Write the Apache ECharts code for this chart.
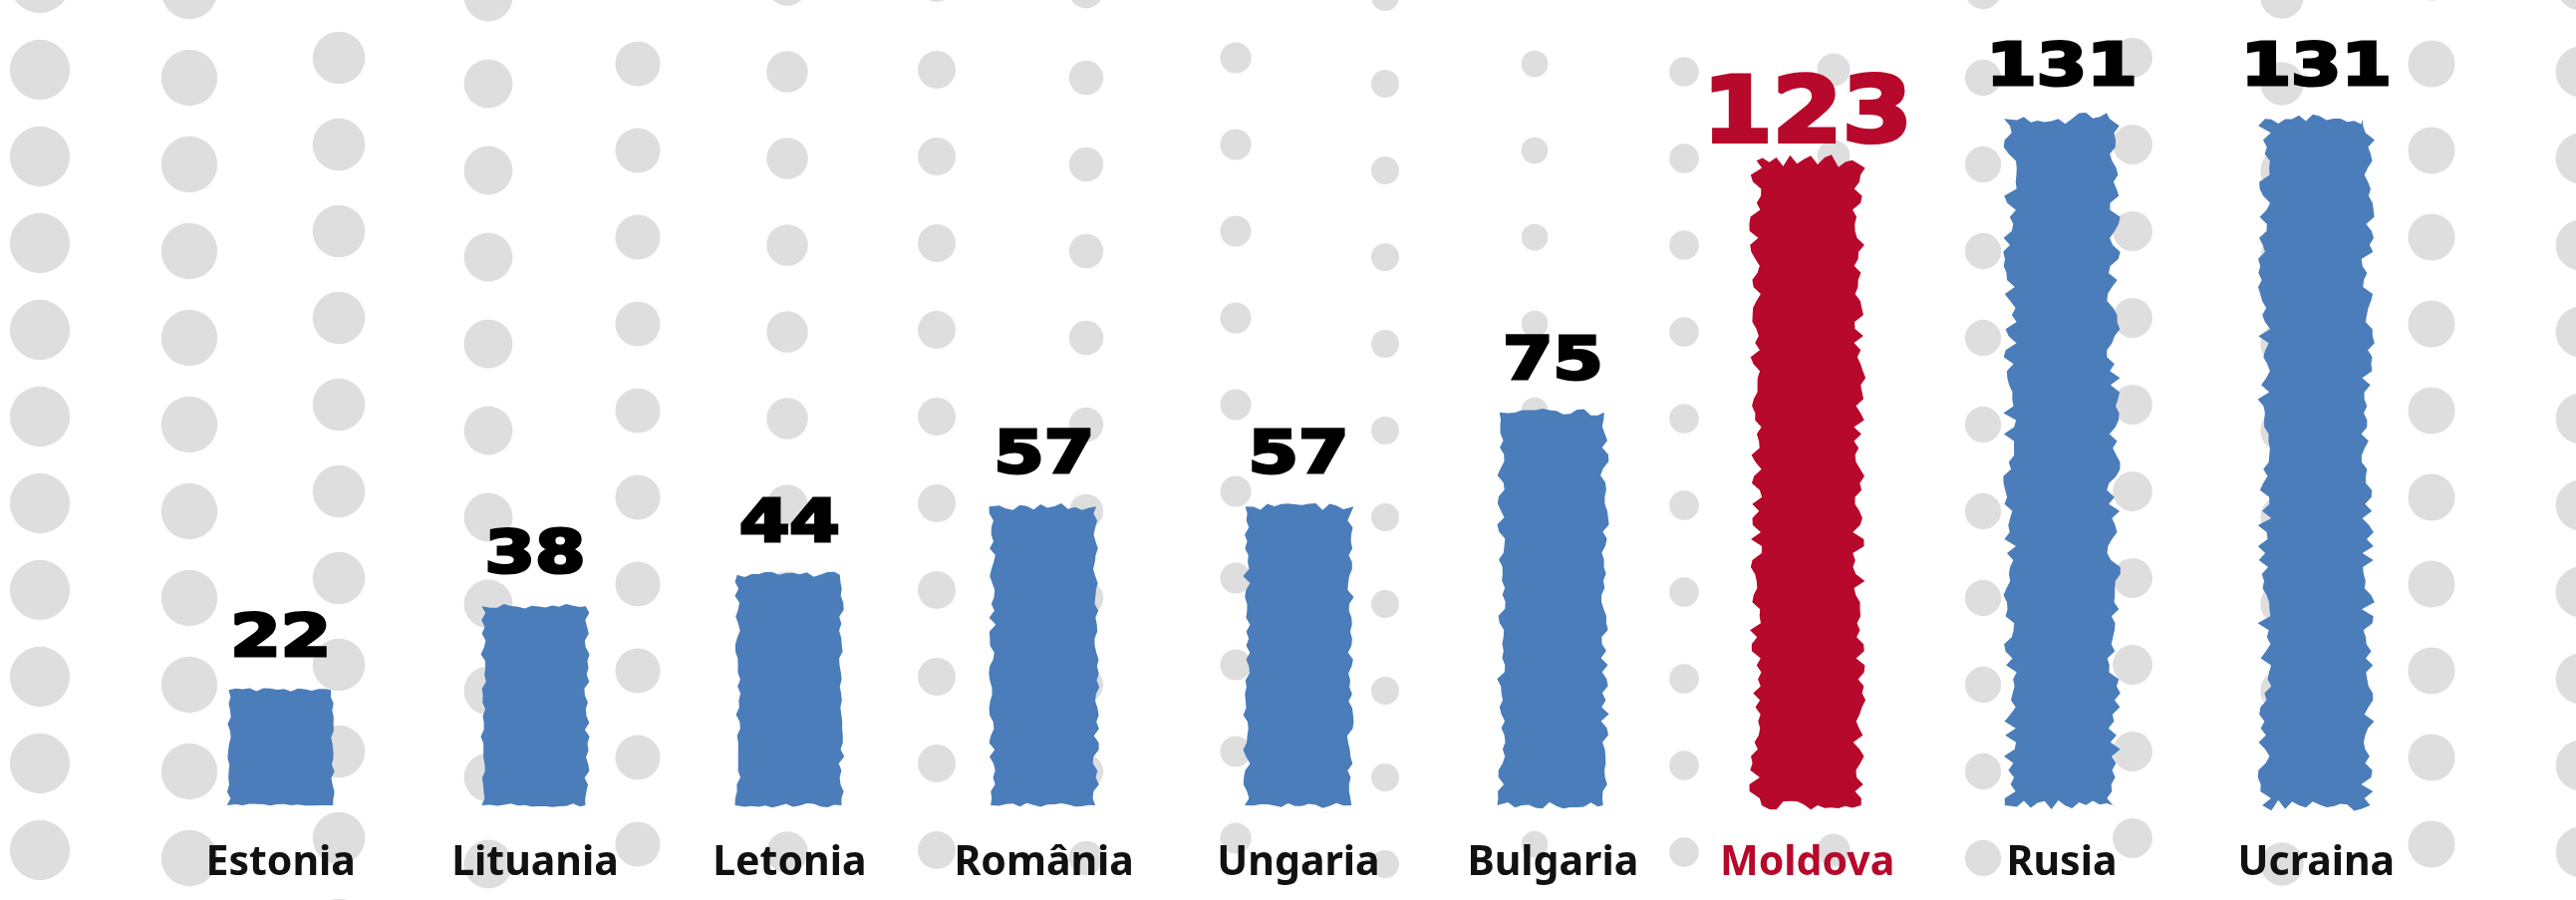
<!DOCTYPE html>
<html>
<head>
<meta charset="utf-8">
<script src="https://cdn.jsdelivr.net/npm/echarts@6/dist/echarts.min.js"></script>
<style>
html,body{margin:0;padding:0;background:#fff;}
#chart{width:2585px;height:903px;}
</style>
</head>
<body>
<div id="chart"></div>
<script>
const categories = ['Estonia','Lituania','Letonia','România','Ungaria','Bulgaria','Moldova','Rusia','Ucraina'];
const values = [22, 38, 44, 57, 57, 75, 123, 131, 131];
const highlight = 'Moldova';

const BLUE = '#4a7dba';
const RED = '#b7092b';

const chart = echarts.init(document.getElementById('chart'), null, {renderer:'canvas'});

// decorative dotted background
const dots = [];
for (let i = 0; i < 18; i++) {
  const x = 40 + i * 150;
  const d = Math.abs(x - 1500) / 1450;
  const r = 13 + 17 * Math.pow(d, 1.1);
  for (let j = -1; j < 11; j++) {
    const y = 70 + j * 87 + (i % 2 ? 14 : 0) - (i % 3) * 6;
    dots.push({type:'circle', silent:true, z:-10, shape:{cx:x, cy:y, r:r}, style:{fill:'#dedede'}});
  }
}

function jag(k, seed) {
  const s = Math.sin(k * 12.9898 + seed * 78.233) * 43758.5453;
  return s - Math.floor(s);
}

chart.setOption({
  backgroundColor:'#ffffff',
  animation:false,
  graphic: dots,
  grid:{left:154, right:133, top:72, bottom:95},
  xAxis:{
    type:'category',
    data:categories,
    axisLine:{show:false},
    axisTick:{show:false},
    axisLabel:{
      margin:38,
      fontSize:41,
      fontFamily:'"Noto Sans", "DejaVu Sans", sans-serif',
      fontWeight:'bold',
      color:(v)=> v===highlight ? RED : '#111111'
    }
  },
  yAxis:{type:'value', min:0, max:140, show:false, splitLine:{show:false}},
  series:[{
    type:'custom',
    data: values.map((v,i)=>[i,v]),
    renderItem:function(params, api){
      const idx = api.value(0), val = api.value(1);
      const top = api.coord([idx, val]);
      const base = api.coord([idx, 0]);
      const bw = api.size([1,0])[0] * 0.407;
      const cx = top[0];
      const x0 = cx - bw/2, x1 = cx + bw/2;
      const amp = 1 + val * 0.045;
      const step = 7;
      const pts = [];
      const h = base[1] - top[1];
      const n = Math.max(2, Math.round(h / step));
      for (let k = 0; k <= n; k++) {
        const y = base[1] - h * k / n;
        pts.push([x0 + (jag(k, idx) - 0.5) * 2 * amp, y]);
      }
      const m = Math.max(2, Math.round(bw / step));
      for (let k = 1; k < m; k++) {
        pts.push([x0 + bw * k / m, top[1] + (jag(k, idx + 20) - 0.5) * 2 * amp]);
      }
      for (let k = n; k >= 0; k--) {
        const y = base[1] - h * k / n;
        pts.push([x1 + (jag(k, idx + 40) - 0.5) * 2 * amp, y]);
      }
      for (let k = m - 1; k > 0; k--) {
        pts.push([x0 + bw * k / m, base[1] + (jag(k, idx + 60) - 0.5) * 2 * amp * 0.8]);
      }
      const isHi = categories[idx] === highlight;
      const color = isHi ? RED : BLUE;
      const tc = isHi ? RED : '#000000';
      return {
        type:'group',
        children:[
          {type:'polygon', shape:{points:pts}, style:{fill:color}},
          {type:'text', x:cx, y: top[1] + (isHi ? 2 : -20),
           scaleX: isHi ? 1.12 : 1.25,
           style:{text:String(val), align:'center', verticalAlign:'bottom',
             fontSize: isHi ? 90 : 58, fontWeight:'bold',
             fontFamily:'"DejaVu Sans", sans-serif',
             fill: tc, stroke: tc, lineWidth: isHi ? 4 : 3}}
        ]
      };
    }
  }]
});
</script>
</body>
</html>
